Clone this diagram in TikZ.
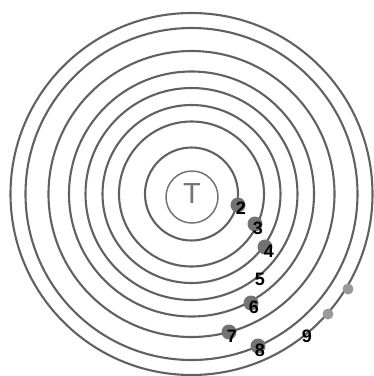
\documentclass[tikz,border=0pt]{standalone}
\usepackage{fontspec}
\setmainfont{Liberation Sans}
\begin{document}
\begin{tikzpicture}[x=1pt,y=-1pt,
  ring/.style={draw=black!62,line width=2.1pt},
  dotbig/.style={circle,fill=black!55,minimum size=15pt,inner sep=0pt},
  dotsmall/.style={circle,fill=black!40,minimum size=11pt,inner sep=0pt},
  num/.style={font=\bfseries\fontsize{18}{18}\selectfont,text=black,inner sep=0pt}]
\useasboundingbox (0,0) rectangle (374,376);
\coordinate (c) at (191.5,194);
\foreach \r in {181,166,143,122.5,106,89,72.5,46.5}{\draw[ring] (c) circle (\r);}
\draw[draw=black!55,line width=1.5pt] (192,197) circle (26);
\node[text=black!55,font=\fontsize{29}{29}\selectfont,inner sep=0pt] (T) at (192,194) {T};
% dots
\node[dotbig] (d2) at (238,205) {};
\node[dotbig] (d3) at (255,224) {};
\node[dotbig] (d4) at (265,247) {};
\node[dotbig] (d6) at (251,303) {};
\node[dotbig] (d7) at (229,332) {};
\node[dotbig] (d8) at (258,346) {};
\node[dotsmall] (e1) at (348,289) {};
\node[dotsmall] (e2) at (328,314) {};
% numbers
\node[num] (n2) at (241,208) {2};
\node[num] (n3) at (258,228) {3};
\node[num] (n4) at (269,251) {4};
\node[num] (n5) at (260,279) {5};
\node[num] (n6) at (254,307) {6};
\node[num] (n7) at (232,336) {7};
\node[num] (n8) at (260,350) {8};
\node[num] (n9) at (307,336) {9};
\end{tikzpicture}
\end{document}
